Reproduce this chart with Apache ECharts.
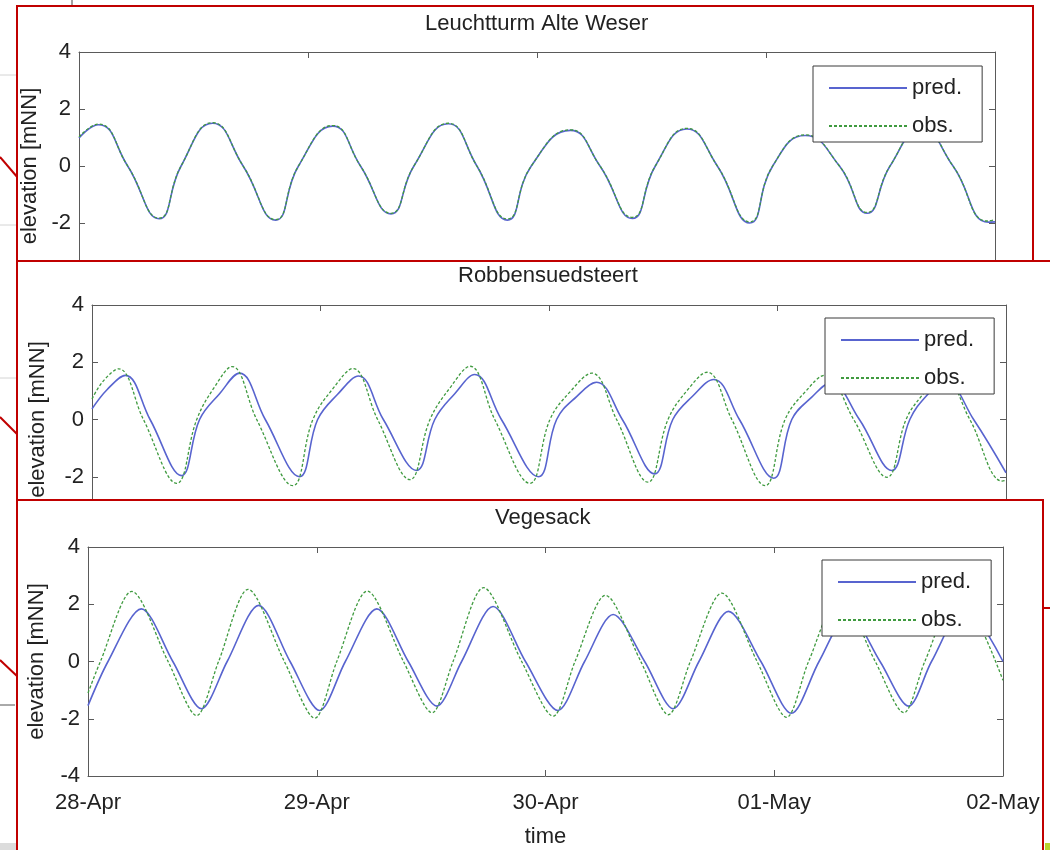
<!DOCTYPE html>
<html>
<head>
<meta charset="utf-8">
<script src="https://cdn.jsdelivr.net/npm/echarts@6/dist/echarts.min.js"></script>
<style>
  html, body { margin: 0; padding: 0; background: #fff; }
  #chart { width: 1050px; height: 850px; }
</style>
</head>
<body>
<div id="chart"></div>
<script>
// ---------------- DATA (hours since 28-Apr 00:00, elevation in mNN) ----------------
const stationNames = ['Leuchtturm Alte Weser', 'Robbensuedsteert', 'Vegesack'];
const seriesNames = ['pred.', 'obs.'];
const tickLabels = ['28-Apr', '29-Apr', '30-Apr', '01-May', '02-May'];

const lawPred = [
  [0.0, 0.98], [2.0, 1.45], [5.1, 0], [8.4, -1.85], [10.7, 0], [14.0, 1.50], [17.2, 0],
  [20.6, -1.90], [23.0, 0], [26.6, 1.40], [29.5, 0], [32.7, -1.68], [35.1, 0], [38.7, 1.48],
  [41.7, 0], [44.9, -1.90], [47.4, 0], [51.5, 1.25], [54.6, 0], [58.0, -1.84], [60.4, 0],
  [63.7, 1.30], [66.9, 0], [70.3, -2.00], [72.7, 0], [76.1, 1.07], [79.7, 0], [82.6, -1.66],
  [85.0, 0], [88.3, 1.30], [91.6, 0], [95.3, -1.97], [96.0, -1.96]
];
const lawObs = [
  [0.0, 1.02], [2.0, 1.47], [5.1, 0], [8.4, -1.83], [10.7, 0], [14.0, 1.52], [17.2, 0],
  [20.6, -1.88], [23.0, 0], [26.6, 1.42], [29.5, 0], [32.7, -1.66], [35.1, 0], [38.7, 1.50],
  [41.7, 0], [44.9, -1.86], [47.4, 0], [51.5, 1.27], [54.6, 0], [58.0, -1.80], [60.4, 0],
  [63.7, 1.32], [66.9, 0], [70.3, -1.96], [72.7, 0], [76.1, 1.09], [79.7, 0], [82.6, -1.63],
  [85.0, 0], [88.3, 1.32], [91.6, 0], [95.2, -1.93], [96.0, -1.88]
];

const robPred = [
  [0.0, 0.37], [1.6, 1.05], [3.5, 1.54], [6.1, 0], [9.4, -1.96], [11.3, 0], [13.4, 0.90],
  [15.5, 1.62], [18.2, 0], [21.8, -2.00], [23.7, 0], [25.8, 0.88], [28.0, 1.52], [30.6, 0],
  [34.1, -1.78], [36.0, 0], [38.1, 0.90], [40.2, 1.57], [43.0, 0], [46.9, -2.00], [48.8, 0],
  [50.9, 0.80], [53.0, 1.30], [55.7, 0], [59.1, -1.90], [61.0, 0], [63.1, 0.82], [65.3, 1.40],
  [68.0, 0], [71.6, -2.05], [73.5, 0], [75.6, 0.78], [77.6, 1.28], [80.6, 0], [84.0, -1.78],
  [85.9, 0], [87.7, 0.85], [89.6, 1.35], [92.6, 0], [96.0, -1.86]
];
const robObs = [
  [0.0, 0.72], [1.2, 1.35], [2.8, 1.77], [5.4, 0], [8.9, -2.23], [11.0, 0], [12.9, 1.15],
  [14.7, 1.85], [17.3, 0], [21.1, -2.31], [23.2, 0], [25.4, 1.12], [27.4, 1.78], [30.0, 0],
  [33.4, -2.10], [35.5, 0], [37.7, 1.15], [39.7, 1.86], [42.3, 0], [46.0, -2.23], [48.1, 0],
  [50.3, 1.00], [52.5, 1.62], [55.1, 0], [58.4, -2.19], [60.5, 0], [62.6, 1.05], [64.6, 1.65],
  [67.2, 0], [70.7, -2.31], [72.8, 0], [75.0, 1.00], [77.0, 1.55], [80.0, 0], [83.5, -2.02],
  [85.5, 0], [87.2, 0.85], [89.3, 1.60], [92.2, 0], [95.6, -2.15], [96.0, -2.13]
];

const vegPred = [
  [0.0, -1.54], [2.1, 0], [5.6, 1.84], [8.9, 0], [11.9, -1.65], [14.6, 0], [17.9, 1.96],
  [21.2, 0], [24.3, -1.71], [27.0, 0], [30.3, 1.84], [33.6, 0], [36.6, -1.56], [39.2, 0],
  [42.5, 1.92], [45.9, 0], [49.3, -1.71], [52.1, 0], [55.1, 1.64], [58.4, 0], [61.4, -1.65],
  [64.1, 0], [67.2, 1.75], [70.6, 0], [73.8, -1.81], [76.7, 0], [79.8, 1.65], [83.1, 0],
  [86.1, -1.56], [88.5, 0], [92.0, 1.88], [96.0, 0.0]
];
const vegObs = [
  [0.0, -1.10], [1.3, 0], [4.6, 2.45], [8.4, 0], [11.4, -1.89], [13.7, 0], [16.8, 2.52],
  [20.6, 0], [23.8, -1.98], [26.1, 0], [29.3, 2.46], [33.1, 0], [36.1, -1.79], [38.3, 0],
  [41.5, 2.58], [45.5, 0], [48.8, -1.91], [51.1, 0], [54.3, 2.31], [58.0, 0], [60.9, -1.86],
  [63.2, 0], [66.5, 2.39], [70.2, 0], [73.3, -1.95], [75.6, 0], [78.9, 2.30], [82.6, 0],
  [85.6, -1.79], [87.8, 0], [91.2, 2.40], [96.0, -0.66]
];

const stationData = [[lawPred, lawObs], [robPred, robObs], [vegPred, vegObs]];

// ---------------- LAYOUT / STYLE ----------------
const FONT = '"Liberation Sans", Arial, Helvetica, sans-serif';
const TXT = '#222';
const AX = '#5a5a5a';
const RED = '#c00000';
const PRED_COLOR = '#5864cf';
const OBS_COLOR = '#3f9a3f';

const layout = [
  { frame: [17, 6, 1016, 420], grid: { left: 79, top: 52, width: 916, height: 228 }, title: [425, 13], legend: [813, 66], nameGap: 37, smooth: 0.5, xLabels: false },
  { frame: [17, 261, 1100, 347], grid: { left: 92, top: 305, width: 914, height: 229 }, title: [458, 265], legend: [825, 318], nameGap: 43, smooth: 0.4, xLabels: false },
  { frame: [17, 500, 1026, 400], grid: { left: 88, top: 547, width: 915, height: 229 }, title: [495, 507], legend: [822, 560], nameGap: 40, smooth: 0.3, xLabels: true }
];

const grids = [], xAxes = [], yAxes = [], series = [], titles = [], legends = [], graphics = [];

// background decorations outside the panels
const deco = [
  { type: 'line', shape: { x1: 72, y1: 0, x2: 72, y2: 7 }, style: { stroke: '#444', lineWidth: 1 } },
  { type: 'line', shape: { x1: 0, y1: 75, x2: 17, y2: 75 }, style: { stroke: '#d4d4d4', lineWidth: 1 } },
  { type: 'line', shape: { x1: 0, y1: 225, x2: 17, y2: 225 }, style: { stroke: '#d4d4d4', lineWidth: 1 } },
  { type: 'line', shape: { x1: 0, y1: 378, x2: 17, y2: 378 }, style: { stroke: '#d4d4d4', lineWidth: 1 } },
  { type: 'line', shape: { x1: 0, y1: 705, x2: 15, y2: 705 }, style: { stroke: '#555', lineWidth: 1 } },
  { type: 'rect', shape: { x: 0, y: 843, width: 17, height: 7 }, style: { fill: '#dcdcdc' } },
  { type: 'rect', shape: { x: 1045, y: 843, width: 5, height: 7 }, style: { fill: '#b8d430' } },
  { type: 'line', shape: { x1: 0, y1: 157, x2: 18, y2: 178 }, style: { stroke: RED, lineWidth: 2 } },
  { type: 'line', shape: { x1: 0, y1: 417, x2: 18, y2: 435 }, style: { stroke: RED, lineWidth: 2 } },
  { type: 'line', shape: { x1: 0, y1: 660, x2: 18, y2: 677 }, style: { stroke: RED, lineWidth: 2 } }
];
deco.forEach(d => { d.z = 0; graphics.push(d); });

layout.forEach((L, i) => {
  const base = i * 10 + 1;
  const [fx, fy, fw, fh] = L.frame;
  graphics.push({
    type: 'rect', z: base,
    shape: { x: fx, y: fy, width: fw, height: fh },
    style: { fill: '#fff', stroke: RED, lineWidth: 2 }
  });

  grids.push(Object.assign({ show: false, z: base + 1 }, L.grid));

  const axisLine = { show: true, onZero: false, lineStyle: { color: AX, width: 1 } };
  const axisTick = { show: true, inside: true, length: 6, lineStyle: { color: AX, width: 1 } };

  xAxes.push({
    gridIndex: i, type: 'value', min: 0, max: 96, interval: 24, position: 'bottom', z: base + 2,
    axisLine, axisTick, splitLine: { show: false },
    axisLabel: {
      show: L.xLabels, margin: 16, fontSize: 22, color: TXT, fontFamily: FONT,
      formatter: v => tickLabels[Math.round(v / 24)]
    },
    name: L.xLabels ? 'time' : '', nameLocation: 'middle', nameGap: 50,
    nameTextStyle: { fontSize: 22, color: TXT, fontFamily: FONT }
  });
  xAxes.push({
    gridIndex: i, type: 'value', min: 0, max: 96, interval: 24, position: 'top', z: base + 2,
    axisLine, axisTick, splitLine: { show: false }, axisLabel: { show: false }
  });
  yAxes.push({
    gridIndex: i, type: 'value', min: -4, max: 4, interval: 2, position: 'left', z: base + 2,
    axisLine, axisTick, splitLine: { show: false },
    axisLabel: { margin: 8, fontSize: 22, color: TXT, fontFamily: FONT },
    name: 'elevation [mNN]', nameLocation: 'middle', nameRotate: 90, nameGap: L.nameGap,
    nameTextStyle: { fontSize: 22, color: TXT, fontFamily: FONT }
  });
  yAxes.push({
    gridIndex: i, type: 'value', min: -4, max: 4, interval: 2, position: 'right', z: base + 2,
    axisLine, axisTick, splitLine: { show: false }, axisLabel: { show: false }
  });

  const [pred, obs] = stationData[i];
  series.push({
    name: seriesNames[0], type: 'line', xAxisIndex: 2 * i, yAxisIndex: 2 * i, z: base + 3,
    data: pred, symbol: 'none', smooth: L.smooth, clip: true,
    lineStyle: { color: PRED_COLOR, width: 1.6 }, itemStyle: { color: PRED_COLOR }
  });
  series.push({
    name: seriesNames[1], type: 'line', xAxisIndex: 2 * i, yAxisIndex: 2 * i, z: base + 4,
    data: obs, symbol: 'none', smooth: L.smooth, clip: true,
    lineStyle: { color: OBS_COLOR, width: 1.3, type: [3, 2] }, itemStyle: { color: OBS_COLOR }
  });

  titles.push({
    text: stationNames[i], left: L.title[0], top: L.title[1], padding: 0, z: base + 6,
    textStyle: { fontSize: 22, fontWeight: 'normal', color: TXT, fontFamily: FONT }
  });

  legends.push({
    data: seriesNames, left: L.legend[0], top: L.legend[1], orient: 'vertical', z: base + 6,
    backgroundColor: '#fff', borderColor: '#3a3a3a', borderWidth: 1, borderRadius: 0,
    padding: [11, 20, 5, 15], itemWidth: 78, itemHeight: 14, itemGap: 16, selectedMode: false,
    itemStyle: { opacity: 0 },
    textStyle: { fontSize: 22, color: TXT, fontFamily: FONT }
  });
});

const chart = echarts.init(document.getElementById('chart'), null, { renderer: 'canvas' });
chart.setOption({
  animation: false,
  backgroundColor: '#fff',
  title: titles,
  legend: legends,
  grid: grids,
  xAxis: xAxes,
  yAxis: yAxes,
  series: series,
  graphic: { elements: graphics }
});
</script>
</body>
</html>
